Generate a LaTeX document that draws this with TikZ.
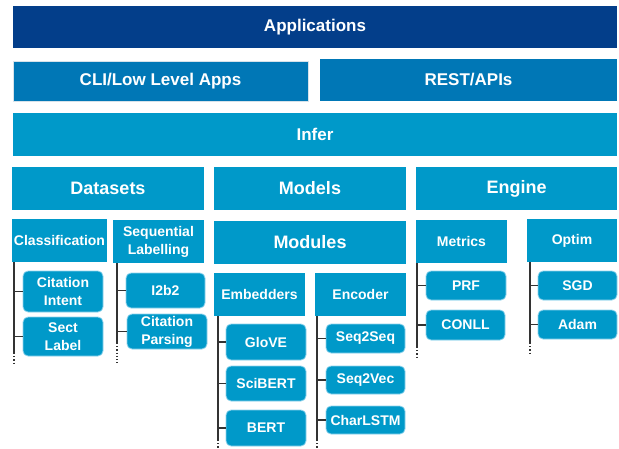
\documentclass[tikz,border=0pt]{standalone}
\usepackage{fontspec}
\setmainfont{Liberation Sans}
\usepackage{xcolor}
\usepackage{tikz}
\usetikzlibrary{positioning, calc}
\definecolor{navy}{HTML}{033E8A}
\definecolor{midblue}{HTML}{0077B6}
\definecolor{lightblue}{HTML}{0099C9}
\definecolor{leafedge}{HTML}{8FD3EC}
\definecolor{paleedge}{HTML}{D6E2EA}
\definecolor{trunkgray}{HTML}{333333}

\tikzset{
  wh/.style 2 args={minimum width=#1, minimum height=#2},
  blk/.style={anchor=north west, inner sep=0pt, outer sep=0pt, text=white, align=center},
  top/.style={blk, fill=lightblue, font=\fontsize{17}{20}\selectfont\bfseries},
  grp/.style={blk, fill=lightblue, font=\fontsize{18}{21}\selectfont\bfseries},
  sub/.style={blk, fill=lightblue, font=\fontsize{14}{18}\selectfont\bfseries},
  leaf/.style={sub, draw=leafedge, line width=0.8pt, rounded corners=5pt},
  trunk/.style={draw=trunkgray, line width=1.2pt},
  dots/.style={trunk, dotted}
}

\begin{document}
\begin{tikzpicture}[x=1pt, y=-1pt]
      \useasboundingbox (0,0) rectangle (619,448);

      % top layers
      \node [top, fill=navy, wh={604}{42}] (APP) at (13,6) {Applications};
      \node [top, fill=midblue, draw=paleedge, line width=0.8pt, wh={295}{40}] (CLI) at (13,61) {CLI/Low Level Apps};
      \node [top, fill=midblue, wh={297}{42}] (REST) at (320,59) {REST/APIs};
      \node [top, wh={604}{43}] (INF) at (13,113) {Infer};

      \node [grp, wh={192}{43}] (DS) at (12,167) {Datasets};
      \node [grp, wh={192}{43}] (MOD) at (214,167) {Models};
      \node [grp, wh={201}{43}] (ENG) at (416,167) {Engine};

      % second level
      \node [sub, wh={95}{43}] (CLS) at (12,219) {Classification};
      \node [sub, wh={91}{43}] (SEQ) at (113,220) {Sequential\\Labelling};
      \node [grp, wh={192}{43}] (MODU) at (214,221) {Modules};
      \node [sub, wh={91}{43}] (EMB) at (214,273) {Embedders};
      \node [sub, wh={91}{43}] (ENC) at (315,273) {Encoder};
      \node [sub, wh={91}{43}] (MET) at (416,220) {Metrics};
      \node [sub, wh={90}{43}] (OPT) at (527,219) {Optim};

      % leaves
      \node [leaf, wh={80}{41}] (CI) at (23,271) {Citation\\Intent};
      \node [leaf, wh={80}{39}] (SL) at (23,317) {Sect\\Label};
      \node [leaf, wh={79}{35}] (I2B2) at (126,273) {I2b2};
      \node [leaf, wh={80}{35}] (CP) at (127,314) {Citation\\Parsing};

      \node [leaf, wh={80}{36}] (GLV) at (226,324) {GloVE};
      \node [leaf, wh={80}{35}] (SCB) at (226,366) {SciBERT};
      \node [leaf, wh={80}{36}] (BRT) at (226,410) {BERT};
      \node [leaf, wh={79}{29}] (S2S) at (326,324) {Seq2Seq};
      \node [leaf, wh={79}{28}] (S2V) at (326,366) {Seq2Vec};
      \node [leaf, wh={79}{28}] (CLSTM) at (326,406) {CharLSTM};

      \node [leaf, wh={80}{29}] (PRF) at (426,271) {PRF};
      \node [leaf, wh={79}{30}] (CNL) at (426,310) {CONLL};
      \node [leaf, wh={79}{29}] (SGD) at (538,271) {SGD};
      \node [leaf, wh={79}{29}] (ADM) at (538,310) {Adam};

      % trunks
      \coordinate (clsE) at (14,353);   \coordinate (clsD) at (14,363);
      \coordinate (seqE) at (117,343);  \coordinate (seqD) at (117,363);
      \coordinate (embE) at (218,440);  \coordinate (embD) at (218,448);
      \coordinate (encE) at (317,440);  \coordinate (encD) at (317,448);
      \coordinate (metE) at (417,347);  \coordinate (metD) at (417,357);
      \coordinate (optE) at (530,343);  \coordinate (optD) at (530,353);

      \draw [trunk] (CLS.south -| clsE) -- (clsE);  \draw [dots] (clsE) -- (clsD);
      \draw [trunk] (SEQ.south -| seqE) -- (seqE);  \draw [dots] (seqE) -- (seqD);
      \draw [trunk] (EMB.south -| embE) -- (embE);  \draw [dots] (embE) -- (embD);
      \draw [trunk] (ENC.south -| encE) -- (encE);  \draw [dots] (encE) -- (encD);
      \draw [trunk] (MET.south -| metE) -- (metE);  \draw [dots] (metE) -- (metD);
      \draw [trunk] (OPT.south -| optE) -- (optE);  \draw [dots] (optE) -- (optD);

      % branches
      \foreach \l/\t in {CI/clsE, SL/clsE, I2B2/seqE, CP/seqE, GLV/embE, SCB/embE, BRT/embE,
                         S2S/encE, S2V/encE, CLSTM/encE, PRF/metE, CNL/metE, SGD/optE, ADM/optE}
        \draw [trunk] (\l.west -| \t) -- (\l.west);
    \end{tikzpicture}
\end{document}
